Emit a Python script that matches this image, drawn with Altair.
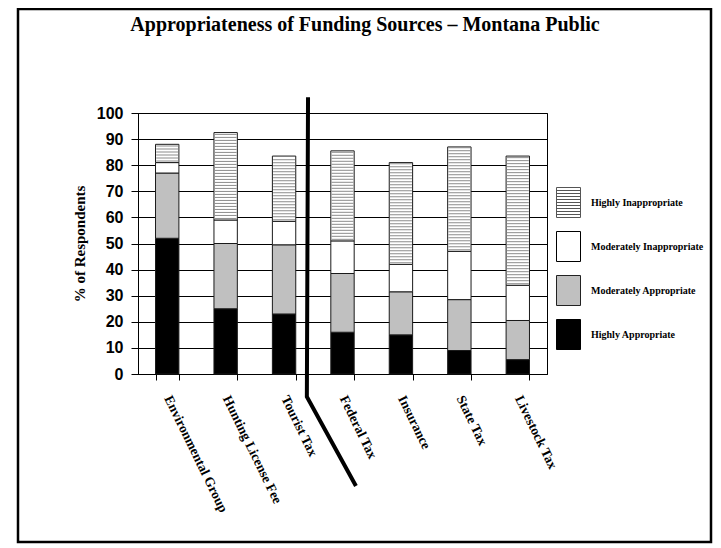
import altair as alt
import pandas as pd
import numpy as np

# ---------------- data ----------------
categories = ["Environmental Group", "Hunting License Fee", "Tourist Tax",
              "Federal Tax", "Insurance", "State Tax", "Livestock Tax"]
highly_appropriate = [52, 25, 23, 16, 15, 9, 5.5]
moderately_appropriate = [25, 25, 26.5, 22.5, 16.5, 19.5, 15]
moderately_inappropriate = [4, 9, 9, 12.5, 10.5, 18.5, 13.5]
highly_inappropriate = [7, 33.5, 25, 34.5, 39, 40, 49.5]

stack_levels = ["Highly Appropriate", "Moderately Appropriate",
                "Moderately Inappropriate", "Highly Inappropriate"]
legend_levels = ["Highly Inappropriate", "Moderately Inappropriate",
                 "Moderately Appropriate", "Highly Appropriate"]
y_ticks = [0, 10, 20, 30, 40, 50, 60, 70, 80, 90, 100]

# divider annotation (x in category units, y in % units)
divider_x = [2.91, 2.89, 3.73]
divider_y = [106, -8.7, -42.9]

title_text = "Appropriateness of Funding Sources \u2013 Montana Public"

# ---------------- tables ----------------
series = [highly_appropriate, moderately_appropriate,
          moderately_inappropriate, highly_inappropriate]
rows = []
for i, cat in enumerate(categories):
    base = 0.0
    for lev, vals in zip(stack_levels, series):
        v = vals[i]
        rows.append({"category": cat, "level": lev, "lo": base, "hi": base + v})
        base += v
bars_df = pd.DataFrame(rows)

# horizontal hatch texture for the "Highly Inappropriate" segments
stripe_rows = []
for r in rows:
    if r["level"] == "Highly Inappropriate":
        for yv in np.arange(r["lo"] + 0.6, r["hi"] - 0.3, 1.15):
            stripe_rows.append({"category": r["category"], "lo": float(yv)})
stripes_df = pd.DataFrame(stripe_rows)

divider_df = pd.DataFrame({"x": divider_x, "lo": divider_y,
                           "order": list(range(len(divider_x)))})
legend_df = pd.DataFrame({"level": legend_levels})
one = pd.DataFrame({"a": [0]})

# ---------------- styling ----------------
SERIF = "Liberation Serif"
SANS = "Liberation Sans"

x_scale = alt.Scale(domain=categories, paddingInner=0.6, paddingOuter=0.3)
y_scale = alt.Scale(domain=[0, 100], nice=False)

x_axis = alt.Axis(title=None, labelAngle=64, labelAlign="left",
                  labelBaseline="middle", labelFont=SERIF,
                  labelFontWeight="bold", labelFontSize=13.5,
                  labelColor="black", tickBand="extent", tickSize=6,
                  labelPadding=16, domainColor="black", tickColor="black",
                  grid=False, labelLimit=300)
y_axis = alt.Axis(values=y_ticks, title="% of Respondents", titleFont=SERIF,
                  titleFontSize=15, titleFontWeight="bold", titleColor="black",
                  titlePadding=9, labelFont=SANS, labelFontWeight="bold",
                  labelFontSize=16, labelColor="black", tickSize=7,
                  labelPadding=8, tickColor="black", domainColor="black",
                  grid=True, gridColor="black", gridOpacity=1, gridWidth=1)

bars = alt.Chart(bars_df).mark_bar(stroke="#1a1a1a", strokeWidth=1).encode(
    x=alt.X("category:N", sort=categories, scale=x_scale, axis=x_axis),
    y=alt.Y("lo:Q", scale=y_scale, axis=y_axis),
    y2="hi:Q",
    fill=alt.Fill("level:N",
                  scale=alt.Scale(domain=stack_levels,
                                  range=["#000000", "#c0c0c0", "#ffffff", "#ffffff"]),
                  legend=None),
)

stripes = alt.Chart(stripes_df).mark_tick(
    color="#8c8c8c", thickness=1, size=22, orient="horizontal", opacity=1
).encode(
    x=alt.X("category:N", sort=categories, scale=x_scale, axis=None),
    y=alt.Y("lo:Q", scale=y_scale, axis=y_axis),
)

divider = alt.Chart(divider_df).mark_line(
    color="black", strokeWidth=4, strokeCap="butt", strokeJoin="miter"
).encode(
    x=alt.X("x:Q", scale=alt.Scale(domain=[0, 7], nice=False, zero=False), axis=None),
    y=alt.Y("lo:Q", scale=y_scale, axis=y_axis),
    order="order:Q",
)

# legend symbols: 24x30 boxes; the first carries horizontal hatch lines
box = "M-0.8,-1H0.8V1H-0.8Z"
hatch = box + "".join(" M-0.8,%.1fH0.8" % v for v in np.arange(-0.8, 0.81, 0.2))
leg = alt.Legend(title=None, orient="none", legendX=415, legendY=74,
                 direction="vertical", symbolSize=900, labelFont=SERIF,
                 labelFontWeight="bold", labelFontSize=10, labelColor="black",
                 labelOffset=7, rowPadding=9, symbolStrokeWidth=1,
                 padding=0, offset=0, symbolOpacity=1, labelLimit=300)
legend_layer = alt.Chart(legend_df).mark_point(
    filled=True, size=900, opacity=1, strokeWidth=1
).encode(
    color=alt.Color("level:N", scale=alt.Scale(domain=legend_levels,
                    range=["#ffffff", "#ffffff", "#c0c0c0", "#000000"]), legend=leg),
    stroke=alt.Stroke("level:N", scale=alt.Scale(domain=legend_levels,
                      range=["#555555", "#000000", "#222222", "#000000"]), legend=leg),
    shape=alt.Shape("level:N", scale=alt.Scale(domain=legend_levels,
                    range=[hatch, box, box, box]), legend=leg),
).transform_filter("false")

title_layer = alt.Chart(one).mark_text(
    text=title_text, font=SERIF, fontWeight="bold", fontSize=20,
    baseline="alphabetic", align="center", color="black"
).encode(x=alt.value(227), y=alt.value(-82))

frame = alt.Chart(one).mark_rect(
    fillOpacity=0, stroke="black", strokeWidth=2.5
).encode(x=alt.value(-120), x2=alt.value(573), y=alt.value(-104), y2=alt.value(429))

chart = alt.layer(
    frame, bars, stripes, divider, title_layer, legend_layer
).resolve_scale(
    x="independent"
).properties(
    width=409, height=261,
    autosize=alt.AutoSizeParams(type="none"),
    padding={"left": 130, "top": 105, "right": 166, "bottom": 170},
    background="white",
).configure_view(stroke="black", strokeWidth=1)

chart.save("out.html", embed_options={"renderer": "svg", "actions": False})
